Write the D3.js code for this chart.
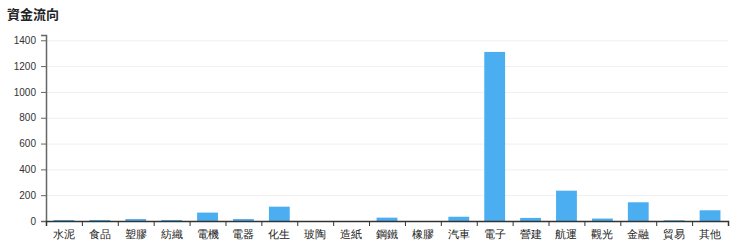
<!DOCTYPE html>
<html>
<head>
<meta charset="utf-8">
<script src="https://cdn.jsdelivr.net/npm/d3@7"></script>
<style>
  body { margin: 0; background: #fff; }
  svg { display: block; font-family: "Noto Sans CJK TC", "Liberation Sans", sans-serif; }
  .title { font-size: 13px; font-weight: bold; fill: #222; }
  .grid line { stroke: #efefef; }
  .grid .domain { display: none; }
</style>
</head>
<body>
<svg id="chart"></svg>
<script>
var categories = ["水泥","食品","塑膠","紡織","電機","電器","化生","玻陶","造紙","鋼鐵","橡膠","汽車","電子","營建","航運","觀光","金融","貿易","其他"]
var flows = [8, 8, 15, 8, 65, 15, 111, 0, 0, 26, 0, 33, 1310, 24, 235, 19, 145, 6, 83]
var yTicks = [0, 200, 400, 600, 800, 1000, 1200, 1400]

var drawChart = function(target)
{
    var screen = {width:740, height:251}
    var margins = {top:35, bottom:30, left:46, right:12}
    var graph = {
        width: screen.width-margins.left-margins.right,
        height: screen.height-margins.top-margins.bottom
    }

    var svg = d3.select(target)
        .attr("width",screen.width)
        .attr("height",screen.height)

    svg.append("text")
        .classed("title",true)
        .attr("x",7)
        .attr("y",19)
        .text("資金流向")

    var g = svg.append("g")
        .attr("transform","translate("+margins.left+","+margins.top+")")

    var xScale = d3.scaleBand()
        .domain(categories)
        .range([0,graph.width])
        .padding(0)

    // boundaries between categories, for the tick marks
    var edgeScale = d3.scaleLinear()
        .domain([0,categories.length])
        .range([0,graph.width])

    var yScale = d3.scaleLinear()
        .domain([0,d3.max(flows)*1.1])
        .range([graph.height,0])

    g.append("g")
        .classed("grid",true)
        .call(d3.axisLeft(yScale).tickValues(yTicks.slice(1)).tickSize(-graph.width).tickFormat(""))

    g.selectAll("rect")
        .data(flows)
        .enter()
        .append("rect")
        .attr("x",function(d,i){return xScale(categories[i])+xScale.bandwidth()*0.21})
        .attr("width",xScale.bandwidth()*0.58)
        .attr("y",function(d){return yScale(d)})
        .attr("height",function(d){return graph.height-yScale(d)})
        .attr("fill","#4baef0")

    var yAxis = g.append("g")
        .call(d3.axisLeft(yScale).tickValues(yTicks).tickSize(5).tickPadding(5).tickFormat(d3.format("d")))
    yAxis.select(".domain").attr("stroke","#666").attr("stroke-width",1.5)
    yAxis.selectAll(".tick line").attr("stroke","#666")
    yAxis.selectAll("text").attr("fill","#333").style("font-size","10px")

    var xTicks = g.append("g")
        .attr("transform","translate(0,"+graph.height+")")
        .call(d3.axisBottom(edgeScale).ticks(categories.length).tickSize(5).tickFormat(""))
    xTicks.select(".domain").attr("stroke","#333").attr("stroke-width",1.5)
    xTicks.selectAll(".tick line").attr("stroke","#333")

    var xLabels = g.append("g")
        .attr("transform","translate(0,"+graph.height+")")
        .call(d3.axisBottom(xScale).tickSize(0).tickPadding(9))
    xLabels.select(".domain").remove()
    xLabels.selectAll("text").attr("fill","#222").style("font-size","11px")
}

drawChart("#chart")
</script>
</body>
</html>
